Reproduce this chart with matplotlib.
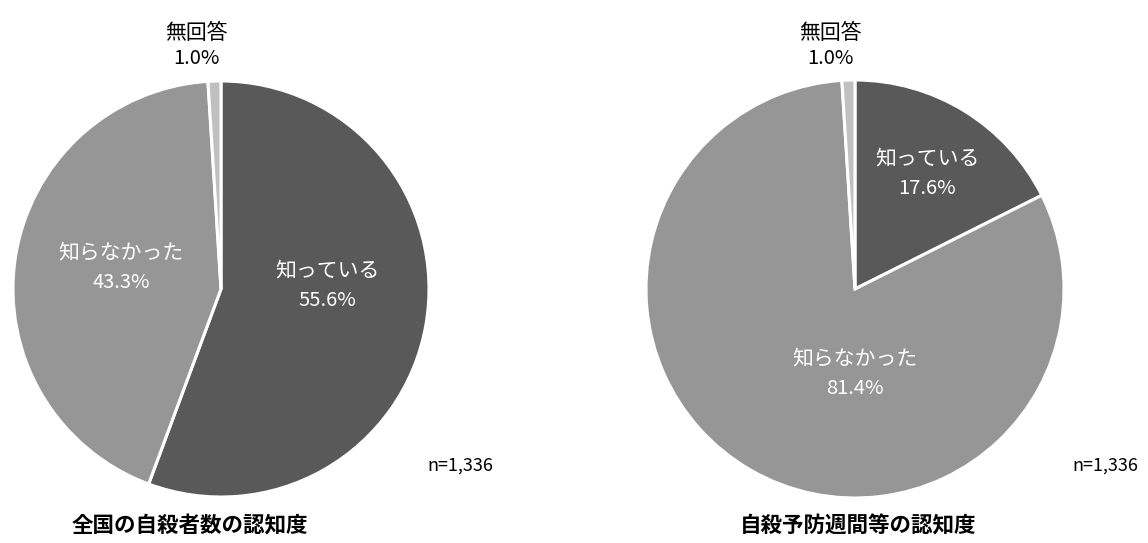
import matplotlib
matplotlib.use("Agg")
import matplotlib.pyplot as plt
from matplotlib import font_manager

plt.rcParams['font.family'] = ['Noto Sans CJK JP', 'DejaVu Sans']

categories = ["知っている", "知らなかった", "無回答"]
left_values = [55.6, 43.3, 1.0]
right_values = [17.6, 81.4, 1.0]
titles = ["全国の自殺者数の認知度", "自殺予防週間等の認知度"]
n_label = "n=1,336"
colors = ["#595959", "#969696", "#c0c0c0"]

names = {f.name for f in font_manager.fontManager.ttflist}
num_family = ['Liberation Sans Narrow', 'Noto Sans CJK JP'] if 'Liberation Sans Narrow' in names else ['Noto Sans CJK JP', 'DejaVu Sans']
num_size = 16.5 if 'Liberation Sans Narrow' in names else 14.5

W, H = 1148, 543
fig = plt.figure(figsize=(W / 100, H / 100), dpi=100)
ax = fig.add_axes([0, 0, 1, 1])

def Y(y):
    return H - y

specs = [
    dict(vals=left_values, cx=221, cy=289, r=208,
         lab=[(327, 270, 300, 'white'), (121, 252, 282, 'white'), (196, 33, 58, 'black')],
         title_x=190, n_x=460),
    dict(vals=right_values, cx=855, cy=289, r=209,
         lab=[(927, 158, 188, 'white'), (855, 358, 388, 'white'), (830, 33, 58, 'black')],
         title_x=858, n_x=1105),
]

for s in specs:
    ax.pie(s['vals'], colors=colors, startangle=90, counterclock=False,
           center=(s['cx'], Y(s['cy'])), radius=s['r'],
           wedgeprops=dict(edgecolor='white', linewidth=2.2), frame=True)
    for cat, val, (lx, ly1, ly2, col) in zip(categories, s['vals'], s['lab']):
        ax.text(lx, Y(ly1), cat, ha='center', va='center', fontsize=15, color=col)
        ax.text(lx, Y(ly2), f"{val:.1f}%", ha='center', va='center', fontsize=num_size,
                color=col, family=num_family)
    ax.text(s['n_x'], Y(466), n_label, ha='center', va='center', fontsize=num_size - 1.5,
            color='black', family=num_family)

ax.set_xlim(0, W)
ax.set_ylim(0, H)
ax.set_aspect('equal')
ax.axis('off')

ax.text(specs[0]['title_x'], Y(526), titles[0], ha='center', va='center',
        fontsize=15.5, fontweight='bold', color='black')
ax.text(specs[1]['title_x'], Y(526), titles[1], ha='center', va='center',
        fontsize=15.5, fontweight='bold', color='black')

fig.savefig("out.png", dpi=100, facecolor='white')
